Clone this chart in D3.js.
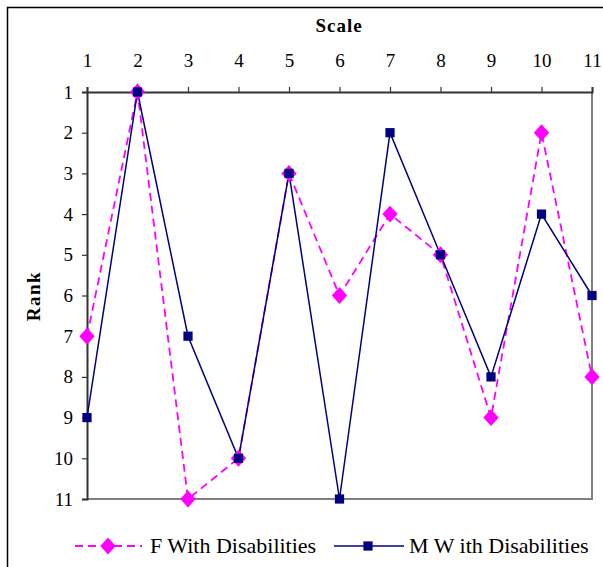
<!DOCTYPE html>
<html><head><meta charset="utf-8">
<script src="https://cdn.jsdelivr.net/npm/d3@7"></script>
<style>body{margin:0;background:#fff}svg{display:block}svg text{font-family:"Liberation Serif","Times New Roman",Times,serif}</style>
</head><body>
<svg id="c" width="603" height="567"></svg>
<script>
const scales = [1,2,3,4,5,6,7,8,9,10,11];
const rankTicks = [1,2,3,4,5,6,7,8,9,10,11];
const fValues = [7,1,11,10,3,6,4,5,9,2,8];
const mValues = [9,1,7,10,3,11,2,5,8,4,6];
const seriesNames = ["F With Disabilities","M W ith Disabilities"];

const svg = d3.select("#c");
const L=87, R=592, T=92, B=499;
const x = d3.scaleLinear().domain([1,11]).range([L,R]);
const y = d3.scaleLinear().domain([1,11]).range([T,B]);

svg.append("rect").attr("x",7.5).attr("y",7.5).attr("width",620).attr("height",620)
  .attr("fill","none").attr("stroke","#000").attr("stroke-width",1.5);

svg.append("path").attr("d",`M${L},${B}H${R}V${T}`).attr("fill","none").attr("stroke","#808080").attr("stroke-width",2);

const xa = svg.append("g").attr("transform",`translate(0,${T})`)
  .call(d3.axisTop(x).tickValues(scales).tickSize(5).tickPadding(20).tickFormat(d3.format("d")));
const ya = svg.append("g").attr("transform",`translate(${L},0)`)
  .call(d3.axisLeft(y).tickValues(rankTicks).tickSize(5).tickPadding(9).tickFormat(d3.format("d")));
[xa,ya].forEach(a=>{
  a.attr("font-family",null).attr("font-size",null);
  a.selectAll("path.domain").attr("stroke","#333").attr("stroke-width",2);
  a.selectAll(".tick line").attr("stroke","#333").attr("stroke-width",1.2);
  a.selectAll("text").style("font-size","19px").attr("fill","#000");
});
xa.selectAll("text").attr("dy","0em");

svg.append("text").attr("x",339).attr("y",32).attr("text-anchor","middle")
  .attr("font-weight","bold").style("font-size","19px").style("letter-spacing","1px").text("Scale");
svg.append("text").attr("transform","translate(40,296) rotate(-90)").attr("text-anchor","middle")
  .attr("font-weight","bold").style("font-size","19px").style("letter-spacing","1.5px").text("Rank");

const line = d3.line().x((d,i)=>x(scales[i])).y(d=>y(d));
const diamond = d3.symbol().type(d3.symbolDiamond2).size(150);
const square = d3.symbol().type(d3.symbolSquare).size(85);

svg.append("path").datum(fValues).attr("d",line).attr("fill","none")
  .attr("stroke","#FF00FF").attr("stroke-width",1.8).attr("stroke-dasharray","8,5");
svg.append("path").datum(mValues).attr("d",line).attr("fill","none")
  .attr("stroke","#000080").attr("stroke-width",1.5);

svg.selectAll(".fm").data(fValues).join("path").attr("class","fm")
  .attr("transform",(d,i)=>`translate(${x(scales[i])},${y(d)}) scale(1,1.1)`)
  .attr("d",diamond).attr("fill","#FF00FF");
svg.selectAll(".mm").data(mValues).join("path").attr("class","mm")
  .attr("transform",(d,i)=>`translate(${x(scales[i])},${y(d)})`)
  .attr("d",square).attr("fill","#000080");

const ly = 546;
const lg = svg.append("g");
lg.append("line").attr("x1",75).attr("x2",142).attr("y1",ly).attr("y2",ly)
  .attr("stroke","#FF00FF").attr("stroke-width",1.8).attr("stroke-dasharray","8,5");
lg.append("path").attr("transform",`translate(108,${ly}) scale(1,1.1)`).attr("d",diamond).attr("fill","#FF00FF");
lg.append("text").attr("x",150).attr("y",ly+7).style("font-size",  "22px").text(seriesNames[0]);
lg.append("line").attr("x1",334).attr("x2",404).attr("y1",ly).attr("y2",ly)
  .attr("stroke","#000080").attr("stroke-width",1.5);
lg.append("path").attr("transform",`translate(368,${ly})`).attr("d",square).attr("fill","#000080");
lg.append("text").attr("x",409).attr("y",ly+7).style("font-size","22px").text(seriesNames[1]);
</script>
</body></html>
